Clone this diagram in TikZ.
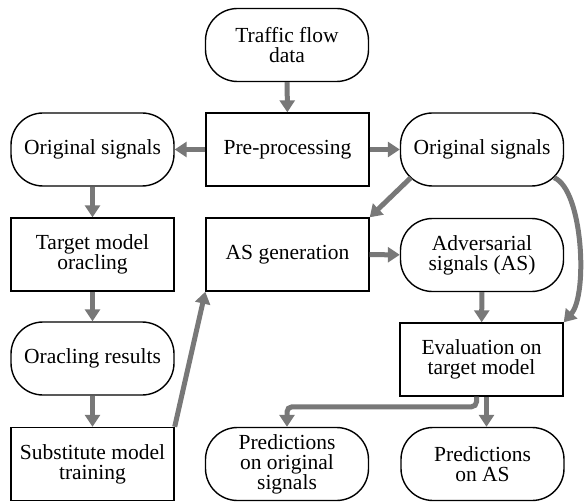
\documentclass[tikz,border=0pt]{standalone}
\usepackage{fontspec}
\newfontfamily\diagfont{LiberationSerif}[Extension=.ttf,UprightFont=*-Regular]
\usetikzlibrary{arrows.meta,calc}
\definecolor{arrowgray}{RGB}{120,120,120}
\begin{document}
\begin{tikzpicture}[x=1bp,y=-1bp,
  base/.style={draw=black,line width=1.4bp,minimum width=163bp,minimum height=73bp,
    align=center,inner sep=2bp,font=\diagfont\fontsize{21.5bp}{20bp}\selectfont},
  procbox/.style={base,rectangle},
  databox/.style={base,rectangle,rounded corners=32bp},
  flow/.style={draw=arrowgray,line width=5bp,-{Triangle[length=12bp,width=15bp]}}]
\useasboundingbox (0,0) rectangle (584,502);
\node[databox] (traffic) at (287,45) {Traffic flow\\data};
\node[procbox] (pre) at (287.5,149.5) {Pre-processing};
\node[databox] (origL) at (92.5,149.5) {Original signals};
\node[databox] (origR) at (482,149.5) {Original signals};
\node[procbox] (target) at (92.5,254.5) {Target model\\oracling};
\node[procbox] (asgen) at (287.5,254.5) {AS generation};
\node[databox] (adv) at (482,255) {Adversarial\\signals (AS)};
\node[databox] (results) at (92.5,358.5) {Oracling results};
\node[procbox] (eval) at (481.5,359.5) {Evaluation on\\target model};
\node[procbox] (subst) at (92.5,464) {Substitute model\\training};
\node[databox] (predO) at (287,464) {Predictions\\on original\\signals};
\node[databox] (predAS) at (482.5,464) {Predictions\\on AS};

\draw[flow] (traffic) -- (pre);
\draw[flow] (pre) -- (origL);
\draw[flow] (pre) -- (origR);
\draw[flow] (origL) -- (target);
\draw[flow] (target) -- (results);
\draw[flow] (results) -- (subst);
\draw[flow] (subst.north east) -- (asgen.south west);
\draw[flow] ([shift={(11,-9)}]origR.south west) -- (asgen.north east);
\draw[flow] (asgen) -- (adv);
\draw[flow] (adv) -- (eval);
\draw[flow] ([shift={(-10,-9)}]origR.south east) .. controls (583,190) and (588,295) .. (eval.north east);
\draw[flow,rounded corners=5bp] ([xshift=-5bp]eval.south) |- ($(predO.north)+(0,-20)$) -- (predO.north);
\draw[flow] ([xshift=5bp]eval.south) -- ([xshift=5bp]eval.south |- predAS.north);
\end{tikzpicture}
\end{document}
